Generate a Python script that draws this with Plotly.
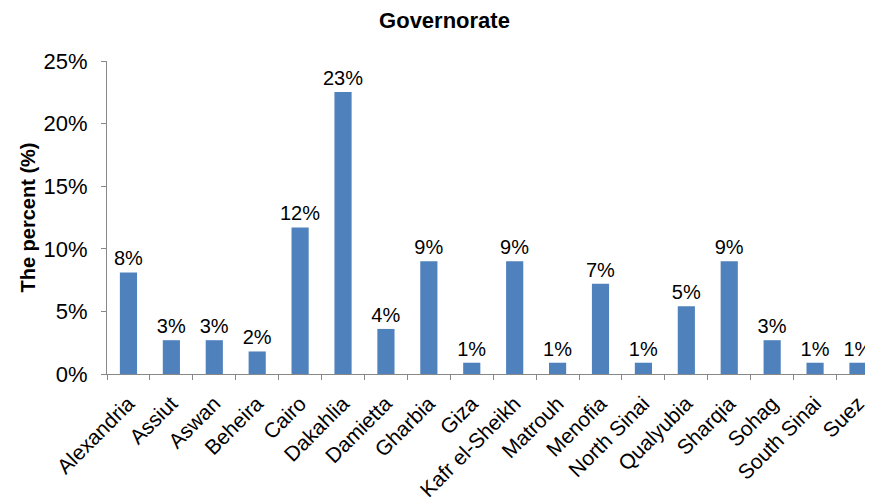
import plotly.graph_objects as go

governorates = ["Alexandria", "Assiut", "Aswan", "Beheira", "Cairo", "Dakahlia",
                "Damietta", "Gharbia", "Giza", "Kafr el-Sheikh", "Matrouh", "Menofia",
                "North Sinai", "Qualyubia", "Sharqia", "Sohag", "South Sinai", "Suez"]
percent = [8.11, 2.70, 2.70, 1.80, 11.71, 22.52, 3.60, 9.01, 0.90, 9.01, 0.90, 7.21,
           0.90, 5.41, 9.01, 2.70, 0.90, 0.90]
y_ticks = [0, 5, 10, 15, 20, 25]
y_tick_labels = ["0%", "5%", "10%", "15%", "20%", "25%"]

idx = list(range(len(governorates)))
font_family = "Liberation Sans, Arial, sans-serif"

fig = go.Figure(go.Bar(
    x=idx, y=percent, width=0.4,
    marker=dict(color="#4F81BD", line=dict(width=0)),
    texttemplate="%{y:.0f}%", textposition="outside", constraintext="none",
    textfont=dict(family=font_family, size=20, color="black"),
    cliponaxis=False,
))

fig.update_layout(
    width=873, height=504,
    margin=dict(l=99, r=8, t=53, b=138),
    paper_bgcolor="white", plot_bgcolor="white",
    showlegend=False,
    title=dict(text="<b>Governorate</b>", x=0.5, xanchor="center", y=0.976, yanchor="middle",
               font=dict(family=font_family, size=22, color="black")),
    font=dict(family=font_family, color="black"),
    bargap=0.6,
)
fig.update_xaxes(
    range=[-0.5, 17.35], automargin=False,
    tickvals=idx, ticktext=governorates, tickangle=-45,
    ticks="", showgrid=False, zeroline=False,
    showline=True, linecolor="#888888", linewidth=1,
    ticklabelstandoff=8,
    tickfont=dict(family=font_family, size=21, color="black"),
    minor=dict(tickvals=[i - 0.5 for i in range(len(governorates) + 1)],
               ticks="outside", ticklen=5, tickcolor="#888888", showgrid=False),
)
fig.update_yaxes(
    range=[0, 25], automargin=False,
    tickvals=y_ticks, ticktext=y_tick_labels,
    ticks="outside", ticklen=5, tickcolor="#888888",
    showgrid=False, zeroline=False,
    showline=True, linecolor="#888888", linewidth=1,
    ticklabelstandoff=9,
    tickfont=dict(family=font_family, size=22, color="black"),
    title=dict(text="<b>The percent (%)</b>", standoff=2,
               font=dict(family=font_family, size=20, color="black")),
)

fig.write_html("out.html")
